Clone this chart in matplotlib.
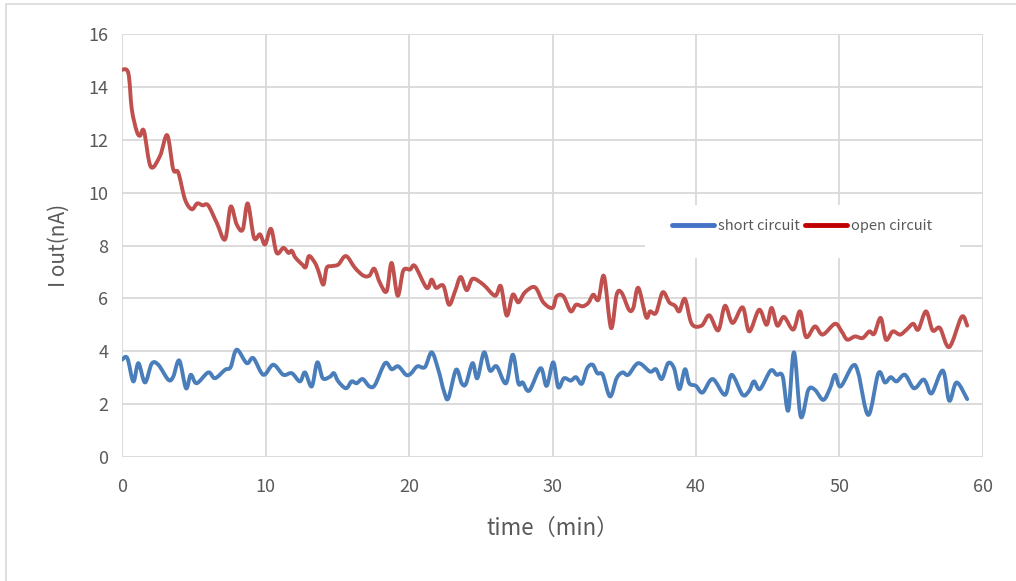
import numpy as np
import matplotlib
matplotlib.use('Agg')
import matplotlib.pyplot as plt
from matplotlib.lines import Line2D
from matplotlib.patches import Rectangle, PathPatch
from matplotlib.path import Path

plt.rcParams['font.family'] = ['Noto Sans CJK SC', 'DejaVu Sans']

# open circuit (red)
t_open = [0.0, 0.44, 0.68, 1.02, 1.25, 1.53, 2.0, 2.65, 3.15, 3.57, 3.92, 4.39, 4.86, 5.24,
          5.62, 6.0, 6.6, 7.18, 7.57, 7.99, 8.41, 8.76, 9.2, 9.62, 9.97, 10.38, 10.78, 11.25,
          11.6, 11.83, 12.06, 12.33, 12.56, 12.8, 13.03, 13.45, 13.69, 14.03, 14.26, 14.61,
          15.07, 15.61, 16.24, 16.82,
          17.24, 17.58, 17.98, 18.44, 18.79, 19.21, 19.6, 20.07, 20.42, 21.23, 21.58, 21.88,
          22.39, 22.79, 23.21, 23.6, 24.02, 24.44, 25.18, 26.0, 26.4, 26.81, 27.23, 27.62,
          28.08, 28.78, 29.36, 30.0, 30.29, 30.76, 31.27, 31.64, 32.1, 32.5, 32.84, 33.2,
          33.59, 34.08, 34.47, 34.82, 35.33, 35.63, 35.98, 36.52, 36.8, 37.21, 37.68, 38.14,
          38.54, 38.84, 39.23, 39.7, 40.39, 40.93, 41.55, 42.02, 42.55, 43.25, 43.71, 44.4,
          44.92, 45.27, 45.67, 46.13, 46.78, 47.25, 47.67, 48.29, 48.83, 49.69, 50.15, 50.54,
          51.08, 51.61, 52.08, 52.42, 52.87, 53.24, 53.71, 54.22, 54.68, 55.14, 55.49, 56.03,
          56.49, 57.0, 57.65, 58.51, 58.9]
i_open = [14.65, 14.52, 13.16, 12.33, 12.15, 12.33, 10.98, 11.39, 12.17, 10.88, 10.76, 9.74,
          9.37, 9.59, 9.52, 9.52, 8.86, 8.23, 9.47, 8.8, 8.6, 9.59, 8.29, 8.42, 8.04, 8.63,
          7.72, 7.91, 7.72, 7.8, 7.56, 7.4, 7.28, 7.18, 7.6, 7.34, 7.03, 6.52, 7.15, 7.22,
          7.28, 7.6, 7.15, 6.86,
          6.86, 7.12, 6.58, 6.27, 7.34, 6.1, 7.05, 7.09, 7.22, 6.4, 6.71, 6.4, 6.48, 5.76,
          6.27, 6.81, 6.31, 6.74, 6.52, 6.1, 6.46, 5.35, 6.14, 5.85, 6.23, 6.42, 5.85, 5.64,
          6.08, 6.08, 5.51, 5.76, 5.7, 5.83, 6.14, 5.95, 6.84, 4.88, 6.14, 6.21, 5.57, 5.64,
          6.4, 5.3, 5.51, 5.45, 6.23, 5.85, 5.72, 5.51, 5.98, 5.04, 4.97, 5.36, 4.79, 5.72,
          5.07, 5.66, 4.75, 5.57, 5.0, 5.64, 4.97, 5.3, 4.82, 5.51, 4.54, 4.94, 4.63, 5.04,
          4.75, 4.44, 4.56, 4.5, 4.75, 4.66, 5.26, 4.44, 4.75, 4.63, 4.82, 5.04, 4.82, 5.51,
          4.79, 4.88, 4.16, 5.3, 4.97]

# short circuit (blue)
t_short = [0.0, 0.37, 0.79, 1.14, 1.6, 2.07, 2.53, 3.23, 3.57, 3.99, 4.46, 4.79, 5.2, 6.01,
           6.48, 7.18, 7.57, 7.99, 8.69, 9.15, 9.85, 10.54, 11.24, 11.83, 12.4, 12.75, 13.22,
           13.61, 13.99, 14.5, 14.77, 15.07, 15.61, 16.0, 16.35, 16.77, 17.24, 17.63, 18.33,
           18.79, 19.25, 19.79, 20.12, 20.58, 21.11, 21.58, 22.04, 22.44, 22.74, 23.28, 23.67,
           23.97, 24.43, 24.76, 25.23, 25.64, 26.11, 26.76, 27.23, 27.62, 27.92, 28.38, 29.17,
           29.59, 30.05, 30.4, 30.8, 31.27, 31.64, 32.04, 32.42, 32.8, 33.12, 33.5, 34.01,
           34.47, 34.89, 35.28, 35.98, 36.8, 37.21, 37.61, 38.06, 38.47, 38.84, 39.23, 39.53,
           40.0, 40.46, 41.16, 42.02, 42.49, 43.25, 43.71, 44.04, 44.46, 45.2, 45.62, 46.04,
           46.43, 46.83, 47.3, 47.83, 48.29, 48.87, 49.34, 49.69, 50.08, 50.92, 51.31, 52.01,
           52.71, 53.17, 53.57, 53.98, 54.56, 55.19, 55.79, 56.03, 56.43, 57.2, 57.65, 58.16,
           58.9]
i_short = [3.68, 3.74, 2.86, 3.55, 2.82, 3.53, 3.49, 2.92, 3.04, 3.65, 2.6, 3.11, 2.79, 3.2,
           2.98, 3.3, 3.4, 4.06, 3.55, 3.74, 3.11, 3.49, 3.11, 3.17, 2.86, 3.2, 2.67, 3.58,
           2.98, 3.04, 3.17, 2.86, 2.6, 2.86, 2.79, 2.95, 2.67, 2.73, 3.55, 3.32, 3.43, 3.11,
           3.15, 3.43, 3.4, 3.96, 3.3, 2.48, 2.22, 3.3, 2.79, 2.77, 3.55, 2.98, 3.96, 3.27,
           3.43, 2.79, 3.87, 2.79, 2.82, 2.51, 3.36, 2.69, 3.58, 2.64, 2.98, 2.89, 3.02, 2.77,
           3.36, 3.49, 3.17, 3.11, 2.29, 2.98, 3.2, 3.11, 3.55, 3.23, 3.32, 2.95, 3.55, 3.36,
           2.57, 3.32, 2.79, 2.69, 2.44, 2.95, 2.35, 3.11, 2.35, 2.51, 2.86, 2.57, 3.27, 3.11,
           3.05, 1.76, 3.96, 1.53, 2.54, 2.54, 2.16, 2.6, 3.11, 2.67, 3.45, 3.17, 1.59, 3.17,
           2.82, 3.02, 2.86, 3.11, 2.6, 2.92, 2.82, 2.41, 3.27, 2.13, 2.82, 2.19]

x_ticks = [0, 10, 20, 30, 40, 50, 60]
y_ticks = [0, 2, 4, 6, 8, 10, 12, 14, 16]

blue = '#4A7EBB'
red = '#C0504D'
gray_text = '#595959'


def smooth_path(x, y):
    # Excel-style "smoothed line": cubic Bezier pieces through the data points
    p = np.column_stack([x, y]).astype(float)
    verts = [p[0]]
    codes = [Path.MOVETO]
    n = len(p)
    for i in range(n - 1):
        d0 = (p[i + 1] - p[max(i - 1, 0)]) / 6
        d1 = (p[min(i + 2, n - 1)] - p[i]) / 6
        verts += [p[i] + d0, p[i + 1] - d1, p[i + 1]]
        codes += [Path.CURVE4] * 3
    return Path(verts, codes)


fig = plt.figure(figsize=(10.16, 5.81), dpi=100)
fig.patches.append(Rectangle((6 / 1016, -0.05), 1.2, 1 - 4 / 581 + 0.05, transform=fig.transFigure,
                             fill=False, edgecolor='#D9D9D9', linewidth=1.2))
ax = fig.add_axes([0.1201, 0.2134, 0.8474, 0.7281])

for xs, ys, c in [(t_short, i_short, blue), (t_open, i_open, red)]:
    ax.add_patch(PathPatch(smooth_path(xs, ys), facecolor='none', edgecolor=c, lw=2.8,
                           joinstyle='round', capstyle='round', zorder=3))

ax.set_xlim(0, 60)
ax.set_ylim(0, 16)
ax.set_xticks(x_ticks)
ax.set_yticks(y_ticks)
ax.grid(True, color='#D9D9D9', linewidth=1.3)
ax.set_axisbelow(True)
for s in ax.spines.values():
    s.set_visible(False)
ax.tick_params(length=0, labelsize=13, labelcolor=gray_text)
ax.tick_params(axis='x', pad=15)
ax.tick_params(axis='y', pad=10)

ax.set_xlabel('time（min）', fontsize=16, color=gray_text, labelpad=15)
ax.set_ylabel('I out(nA)', fontsize=15, color=gray_text, labelpad=13)

# legend box (white, hides the grid behind it)
ax.add_patch(Rectangle((0.607, 0.47), 0.366, 0.126, transform=ax.transAxes,
                       facecolor='white', edgecolor='none', zorder=1))
handles = [Line2D([], [], color='#4472C4', lw=3.5, solid_capstyle='round'),
           Line2D([], [], color='#C00000', lw=3.5, solid_capstyle='round')]
ax.legend(handles, ['short circuit', 'open circuit'], loc='center',
          bbox_to_anchor=(0.79, 0.546), ncol=2, frameon=False, fontsize=10.5,
          handlelength=2.9, handletextpad=0.3, columnspacing=0.3, labelcolor=gray_text)

fig.savefig('out.png', dpi=100)
